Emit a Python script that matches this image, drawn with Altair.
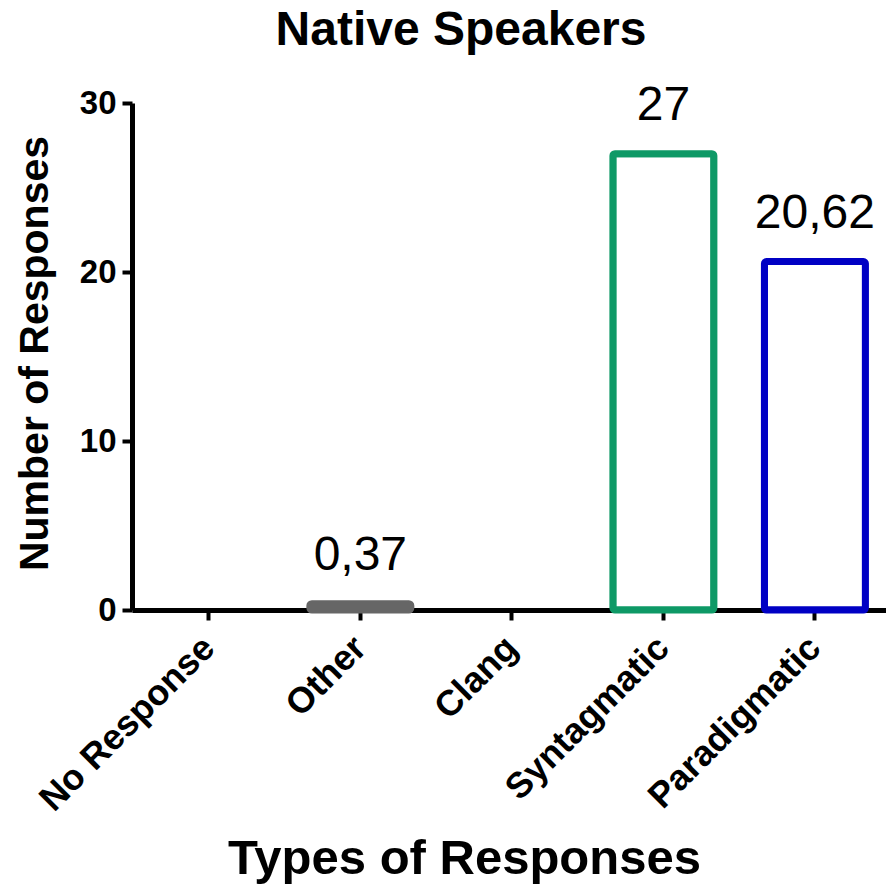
import altair as alt
import pandas as pd

# Response categories and mean counts
categories = ["No Response", "Other", "Clang", "Syntagmatic", "Paradigmatic"]
responses = [0, 0.37, 0, 27, 20.62]

# Outline / fill colours per category
stroke_colors = ["transparent", "#666666", "transparent", "#0E9966", "#0000C4"]
fill_colors = ["transparent", "#666666", "transparent", "#FFFFFF", "#FFFFFF"]

FONT = "Liberation Sans"

df = pd.DataFrame({"category": categories, "value": responses})
df["label"] = [f"{v:g}".replace(".", ",") if v > 0 else "" for v in responses]

x = alt.X(
    "category:N",
    sort=categories,
    scale=alt.Scale(paddingInner=0.34, paddingOuter=0.158, align=0.56),
    title="Types of Responses",
)

y = alt.Y(
    "value:Q",
    scale=alt.Scale(domain=[0, 30], nice=False),
    title="Number of Responses",
    axis=alt.Axis(values=[0, 10, 20, 30]),
)

bars = alt.Chart(df).mark_bar(size=101, strokeWidth=7, cornerRadius=2).encode(
    x=x,
    y=y,
    stroke=alt.Stroke("category:N", scale=alt.Scale(domain=categories, range=stroke_colors), legend=None),
    fill=alt.Fill("category:N", scale=alt.Scale(domain=categories, range=fill_colors), legend=None),
)

labels = alt.Chart(df).mark_text(
    baseline="bottom", dy=-24, font=FONT, fontSize=48, color="black"
).encode(
    x=alt.X("category:N", sort=categories),
    y=alt.Y("value:Q"),
    text="label:N",
)

common_axis = dict(
    grid=False,
    labelFont=FONT,
    labelFontWeight="bold",
    labelColor="black",
    tickSize=10,
    tickWidth=4,
    tickColor="black",
    domainColor="black",
    domainWidth=5,
    titleFont=FONT,
    titleFontWeight="bold",
    titleColor="black",
    titleAlign="center",
    titleBaseline="middle",
    zindex=1,
)

chart = (
    alt.layer(bars, labels)
    .properties(
        width=754,
        height=507,
        background="white",
        autosize=alt.AutoSizeParams(type="none"),
        padding={"left": 132, "top": 103, "right": 0, "bottom": 274},
        title=alt.TitleParams(
            "Native Speakers",
            font=FONT,
            fontSize=48,
            fontWeight="bold",
            color="black",
            anchor="middle",
            dx=-48,
            offset=27,
        ),
    )
    .configure_view(strokeWidth=0, stroke="transparent")
    .configure_axisX(
        labelAngle=-45,
        labelAlign="right",
        labelBaseline="middle",
        labelFontSize=36,
        labelLimit=0,
        labelPadding=22,
        titleFontSize=49,
        titleX=332,
        titleY=248,
        **common_axis,
    )
    .configure_axisY(
        labelFontSize=33,
        labelPadding=6,
        titleFontSize=41,
        titleX=-97,
        titleY=250,
        **common_axis,
    )
)

chart.save("out.html", embed_options={"renderer": "svg", "actions": False})
